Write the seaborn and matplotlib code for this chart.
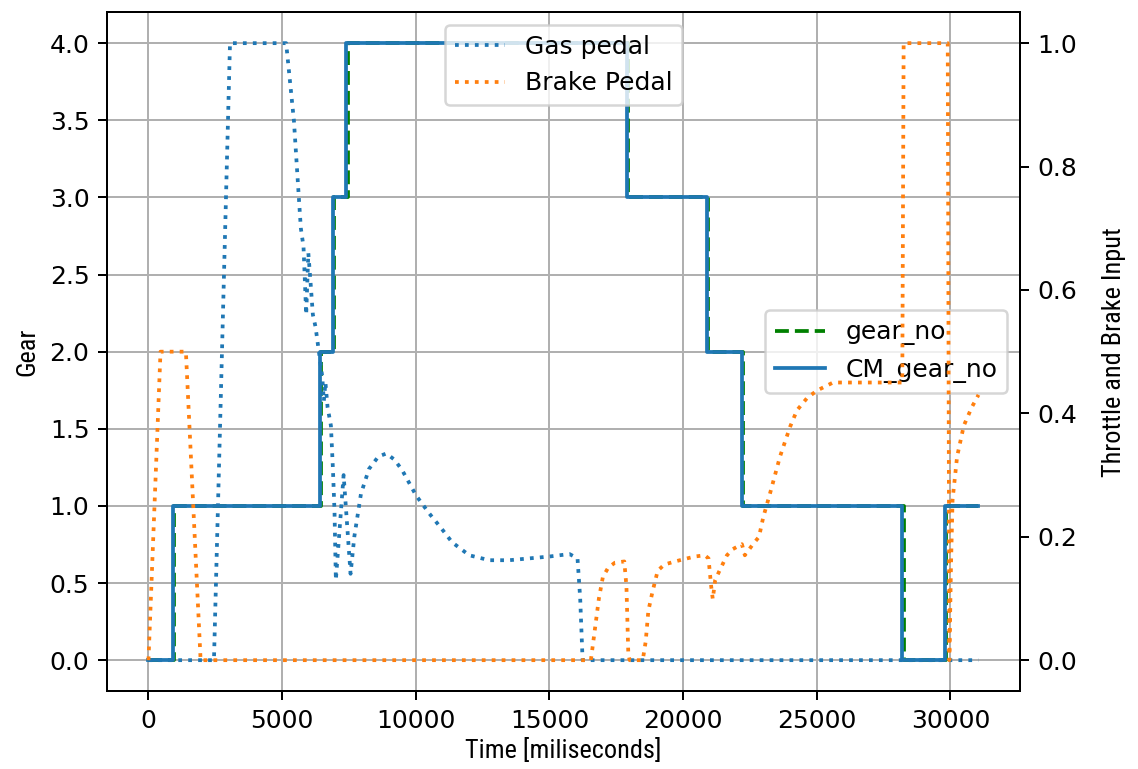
import numpy as np
import pandas as pd
import matplotlib
matplotlib.use("Agg")
import matplotlib.pyplot as plt
import seaborn as sns

# Gear selection: switch times [ms] and gear held from each time onwards
gear_time = [0, 900, 6400, 6900, 7400, 17900, 20900, 22200, 28200, 29800, 31050]
cm_gear_no = [0, 1, 2, 3, 4, 3, 2, 1, 0, 1, 1]
gear_no_time = [0, 950, 6450, 6950, 7450, 17950, 20950, 22250, 28250, 29850, 31050]
gear_no = [0, 1, 2, 3, 4, 3, 2, 1, 0, 1, 1]

# Gas pedal position (0..1)
gas_time = [0, 2450, 3050, 5150, 5440, 5625, 5700, 5800, 5900, 5980, 6050, 6150,
            6250, 6375, 6500, 6560, 6620, 6700, 6825, 6900, 6960, 7010, 7300,
            7560, 7700, 7950, 8250, 8600, 8900, 9200, 9490, 10010, 10500, 10950,
            11360, 12000, 12750, 13500, 14250, 15000, 15750, 16050, 16150, 16240,
            31050]
gas_pedal = [0.0, 0.0, 1.0, 1.0, 0.875, 0.75, 0.70, 0.67, 0.56, 0.66, 0.62, 0.56,
             0.54, 0.50, 0.46, 0.42, 0.45, 0.41, 0.38, 0.31, 0.24, 0.13, 0.30,
             0.14, 0.20, 0.27, 0.31, 0.33, 0.335, 0.325, 0.308, 0.267, 0.238, 0.214,
             0.191, 0.170, 0.162, 0.162, 0.165, 0.168, 0.172, 0.165, 0.10, 0.0,
             0.0]

# Brake pedal position (0..1)
brake_time = [0, 450, 1400, 1950, 16550, 16700, 16850, 17000, 17200, 17450, 17800,
              17880, 17950, 18000, 18490, 18600, 18700, 18850, 19050, 19300, 19700,
              20060, 20440, 20810, 20950, 21050, 21110, 21200, 21340, 21640, 21860,
              22200, 22310, 22580, 22840, 23000, 23250, 23625, 24000, 24260, 24640,
              25010, 25610, 28200, 28250, 29900, 29960, 30020, 30080, 30250, 30500,
              30800, 31050]
brake_pedal = [0.0, 0.5, 0.5, 0.0, 0.0, 0.05, 0.10, 0.135, 0.150, 0.158, 0.160,
               0.12, 0.01, 0.0, 0.0, 0.03, 0.08, 0.11, 0.145, 0.155, 0.160,
               0.164, 0.168, 0.170, 0.165, 0.12, 0.099, 0.13, 0.143, 0.17, 0.18,
               0.188, 0.170, 0.186, 0.20, 0.232, 0.27, 0.33, 0.378, 0.405, 0.425,
               0.437, 0.45, 0.45, 1.0, 1.0, 0.0, 0.15, 0.26, 0.33, 0.38,
               0.41, 0.43]

gear_df = pd.DataFrame({"time": gear_time, "CM_gear_no": cm_gear_no})
gear_no_df = pd.DataFrame({"time": gear_no_time, "gear_no": gear_no})
gas_df = pd.DataFrame({"time": gas_time, "gas": gas_pedal})
brake_df = pd.DataFrame({"time": brake_time, "brake": brake_pedal})

plt.rcParams["font.family"] = ["DejaVu Sans"]
label_font = {"family": "Roboto Condensed", "stretch": "condensed",
              "weight": "normal", "size": 10.5}

fig = plt.figure(figsize=(1138 / 180, 769 / 180), dpi=180)
ax1 = fig.add_axes([0.094, 0.1014, 0.8023, 0.8826])

sns.lineplot(data=gear_no_df, x="time", y="gear_no", ax=ax1, color="green",
             linestyle="--", drawstyle="steps-post", label="gear_no",
             estimator=None, sort=False)
sns.lineplot(data=gear_df, x="time", y="CM_gear_no", ax=ax1, color="#1f77b4",
             linestyle="-", drawstyle="steps-post", label="CM_gear_no",
             estimator=None, sort=False)
ax1.set_xlabel("Time [miliseconds]", fontdict=label_font, labelpad=2)
ax1.set_ylabel("Gear", fontdict=label_font)
ax1.grid(True)
ax1.legend(loc="center right", fontsize=10)

ax2 = ax1.twinx()
sns.lineplot(data=gas_df, x="time", y="gas", ax=ax2, color="#1f77b4",
             linestyle=":", label="Gas pedal", estimator=None, sort=False)
sns.lineplot(data=brake_df, x="time", y="brake", ax=ax2, color="#ff7f0e",
             linestyle=":", label="Brake Pedal", estimator=None, sort=False)
ax2.set_ylabel("Throttle and Brake Input", fontdict=label_font, labelpad=10)
ax2.legend(loc="upper center", fontsize=10)

for ax in (ax1, ax2):
    ax.tick_params(labelsize=10)

fig.savefig("out.png", dpi=180)
